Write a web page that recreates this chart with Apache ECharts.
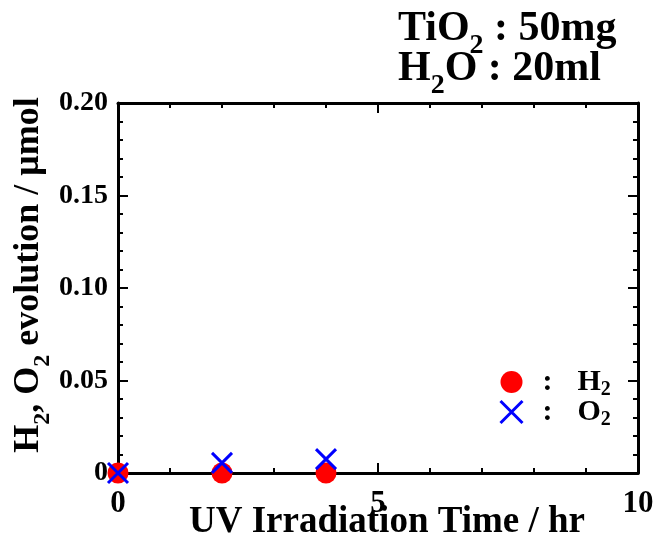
<!DOCTYPE html>
<html>
<head>
<meta charset="utf-8">
<script src="https://cdn.jsdelivr.net/npm/echarts@6/dist/echarts.min.js"></script>
<style>
html,body{margin:0;padding:0;background:#fff;}
#c{width:659px;height:542px;}
</style>
</head>
<body>
<div id="c"></div>
<script>
// Data
const timeH = [0, 2, 4];
const h2Values = [0, 0, 0];
const o2Values = [0, 0.0055, 0.0075];
const xTicks = [0, 5, 10];
const yTicks = [0, 0.05, 0.10, 0.15, 0.20];

const FONT = '"Liberation Serif", "Times New Roman", serif';
const crossPath = 'path://M0,0L10,10M10,0L0,10';

const chart = echarts.init(document.getElementById('c'));
const axisLineStyle = {color: '#000', width: 3};
function xAxisBase(extra) {
  return Object.assign({
    type: 'value', min: xTicks[0], max: xTicks[xTicks.length-1], interval: 5,
    axisLine: {show: true, onZero: false, lineStyle: axisLineStyle},
    axisTick: {show: true, inside: true, length: 10, lineStyle: {color: '#000', width: 2}},
    minorTick: {show: true, splitNumber: 5, length: 5, lineStyle: {color: '#000', width: 2}},
    splitLine: {show: false}
  }, extra);
}
function yAxisBase(extra) {
  return Object.assign({
    type: 'value', min: yTicks[0], max: yTicks[yTicks.length-1], interval: 0.05,
    axisLine: {show: true, onZero: false, lineStyle: axisLineStyle},
    axisTick: {show: true, inside: true, length: 10, lineStyle: {color: '#000', width: 2}},
    minorTick: {show: true, splitNumber: 5, length: 5, lineStyle: {color: '#000', width: 2}},
    splitLine: {show: false}
  }, extra);
}
const bigRich = {
  n: {fontFamily: FONT, fontWeight: 'bold', fontSize: 42, color: '#000'},
  s: {fontFamily: FONT, fontWeight: 'bold', fontSize: 28, color: '#000', verticalAlign: 'bottom', padding: [0,0,-10,0]}
};

chart.setOption({
  animation: false,
  backgroundColor: '#fff',
  grid: {left: 118, right: 21, top: 103, bottom: 69, containLabel: false, outerBoundsMode: 'none'},
  xAxis: [
    xAxisBase({
      position: 'bottom',
      axisLabel: {show: true, margin: 15, fontFamily: FONT, fontWeight: 'bold', fontSize: 31, color: '#000'},
      name: 'UV Irradiation Time / hr',
      nameLocation: 'middle', nameGap: 31, nameMoveOverlap: false,
      nameTextStyle: {fontFamily: FONT, fontWeight: 'bold', fontSize: 37, color: '#000', padding: [0,0,0,18]}
    }),
    xAxisBase({position: 'top', axisLabel: {show: false}})
  ],
  yAxis: [
    yAxisBase({
      position: 'left',
      axisLabel: {show: true, margin: 10, fontFamily: FONT, fontWeight: 'bold', fontSize: 28, color: '#000',
        formatter: v => v === 0 ? '0' : v.toFixed(2)},
      name: '{n|H}{s|2}{n|, O}{s|2}{n| evolution / μmol}',
      nameLocation: 'middle', nameGap: 71, nameRotate: 90, nameMoveOverlap: false,
      nameTextStyle: {padding: [0,0,0,26], rich: {
        n: {fontFamily: FONT, fontWeight: 'bold', fontSize: 36, color: '#000'},
        s: {fontFamily: FONT, fontWeight: 'bold', fontSize: 24, color: '#000', verticalAlign: 'bottom', padding: [0,0,-8,0]}
      }}
    }),
    yAxisBase({position: 'right', axisLabel: {show: false}})
  ],
  legend: {
    orient: 'vertical', left: 493, top: 362, itemGap: -3,
    itemWidth: 22, itemHeight: 22,
    data: [
      {name: 'H2', icon: 'circle'},
      {name: 'O2', icon: crossPath, itemStyle: {color: 'none', borderColor: '#0000ff', borderWidth: 3}}
    ],
    formatter: function(name){ return '{c|:}{n|' + name.charAt(0) + '}{s|2}'; },
    textStyle: {
      rich: {
        c: {fontFamily: FONT, fontWeight: 'bold', fontSize: 30, color: '#000', width: 40, align: 'center', lineHeight: 22},
        n: {fontFamily: FONT, fontWeight: 'bold', fontSize: 30, color: '#000', padding: [0,0,0,10], lineHeight: 22},
        s: {fontFamily: FONT, fontWeight: 'bold', fontSize: 20, color: '#000', verticalAlign: 'bottom', padding: [0,0,-7,0], lineHeight: 22}
      }
    }
  },
  graphic: [
    {type: 'text', left: 398, top: 8, style: {text: '{n|TiO}{s|2}{n| : 50mg}', rich: bigRich}},
    {type: 'text', left: 398, top: 48, style: {text: '{n|H}{s|2}{n|O : 20ml}', rich: bigRich}}
  ],
  series: [
    {name: 'H2', type: 'scatter', symbol: 'circle', symbolSize: 21, clip: false,
     itemStyle: {color: '#ff0000', opacity: 1},
     data: timeH.map((t,i) => [t, h2Values[i]])},
    {name: 'O2', type: 'scatter', symbol: crossPath, symbolSize: 20, clip: false,
     itemStyle: {color: 'none', borderColor: '#0000ff', borderWidth: 3, opacity: 1},
     data: timeH.map((t,i) => [t, o2Values[i]])}
  ]
});
</script>
</body>
</html>
